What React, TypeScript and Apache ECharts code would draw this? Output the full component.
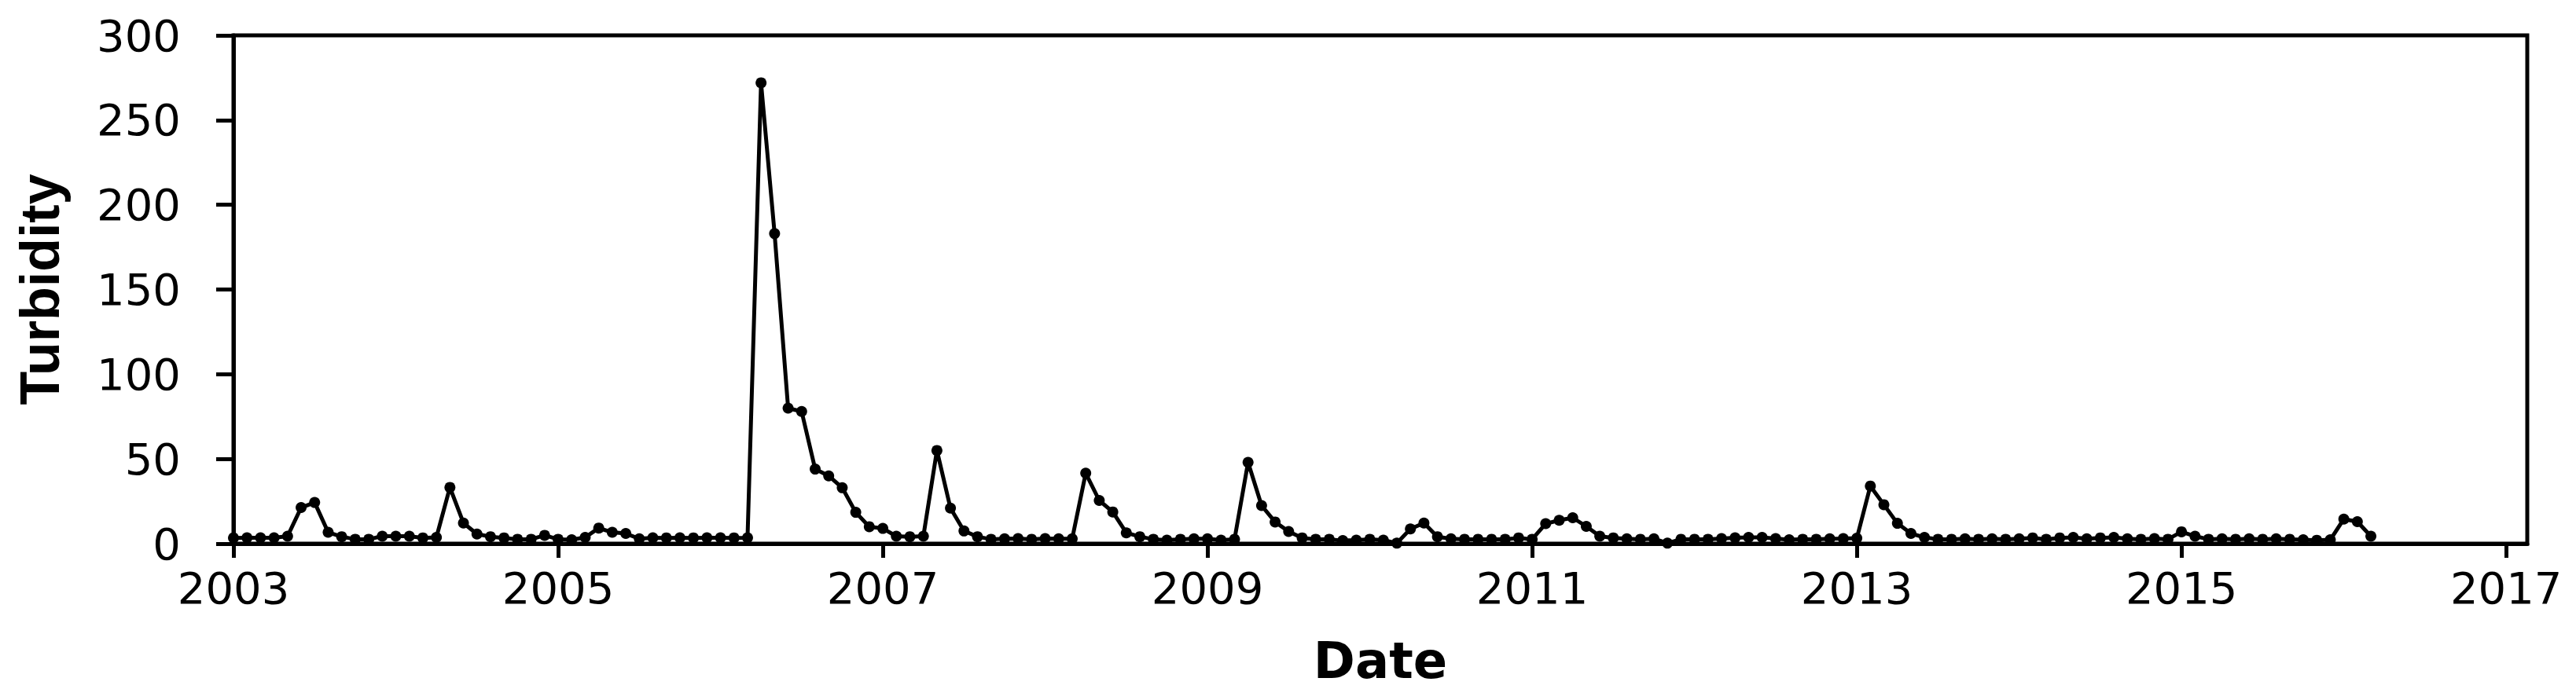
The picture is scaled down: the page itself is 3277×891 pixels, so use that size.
import React, { useEffect, useRef } from "react";
import * as echarts from "echarts";

// Monthly turbidity readings (Jan..Dec)
const t2003 = [3.4, 3.5, 3.5, 3.5, 4.4, 21.3, 24.3, 6.7, 4.1, 2.6, 2.6, 4.4];
const t2004 = [4.4, 4.4, 3.4, 3.7, 33.2, 12.2, 5.7, 4.1, 3.4, 2.6, 2.6, 4.9];
const t2005 = [2.6, 2.3, 3.7, 9.2, 6.7, 6.0, 2.9, 3.5, 3.4, 3.5, 3.4, 3.5];
const t2006 = [3.5, 3.4, 3.5, 272, 183, 80, 78, 44, 40, 33, 18.5, 10];
const t2007 = [9, 4.4, 4.1, 4.4, 55, 21, 7.5, 4.1, 2.6, 2.9, 3.0, 2.6];
const t2008 = [3.0, 2.9, 2.9, 41.6, 25.5, 18.7, 6.4, 4.1, 2.6, 2.1, 2.6, 2.9];
const t2009 = [2.9, 2.1, 2.6, 48, 22.5, 12.8, 7.2, 3.4, 2.6, 2.6, 1.8, 2.1];
const t2010 = [2.6, 2.1, 0.3, 8.7, 12.2, 4.1, 2.9, 2.6, 2.6, 2.6, 2.6, 3.4];
const t2011 = [2.6, 11.8, 13.8, 15.3, 10.2, 4.4, 3.4, 2.9, 2.6, 2.9, 0.3, 2.6];
const t2012 = [2.6, 2.6, 3.0, 3.5, 3.7, 3.7, 3.0, 2.3, 2.6, 2.6, 2.9, 3.0];
const t2013 = [3.2, 34, 23, 12, 6, 3.7, 2.6, 2.6, 2.9, 2.6, 2.9, 2.6];
const t2014 = [2.9, 3.4, 2.6, 3.4, 3.7, 2.9, 3.4, 3.7, 2.9, 2.6, 3.0, 2.6];
const t2015 = [7, 4.4, 2.6, 2.9, 2.6, 2.9, 2.6, 2.9, 2.6, 2.3, 2.0, 2.3];
const t2016 = [14.5, 13, 4.4];

const yearStarts = [2003, 2004, 2005, 2006, 2007, 2008, 2009, 2010, 2011, 2012, 2013, 2014, 2015, 2016];
const yearValues = [t2003, t2004, t2005, t2006, t2007, t2008, t2009, t2010, t2011, t2012, t2013, t2014, t2015, t2016];

const xTicks = [2003, 2005, 2007, 2009, 2011, 2013, 2015, 2017];
const yTicks = [0, 50, 100, 150, 200, 250, 300];

const xMin = 2003;
const xMax = 2017.13;

export default function App() {
  const ref = useRef<HTMLDivElement>(null);

  useEffect(() => {
    if (!ref.current) return;
    const chart = echarts.init(ref.current, undefined, { renderer: "svg" });

    const data: [number, number][] = [];
    yearStarts.forEach((yr, i) => {
      yearValues[i].forEach((v, m) => {
        data.push([yr + m / 12, v]);
      });
    });

    chart.setOption({
      animation: false,
      backgroundColor: "#ffffff",
      grid: {
        left: 297,
        right: 62,
        top: 45,
        bottom: 199,
        containLabel: false,
        outerBoundsMode: "none",
        show: true,
        borderColor: "#000",
        borderWidth: 5,
        backgroundColor: "transparent",
      },
      xAxis: {
        type: "value",
        min: xMin,
        max: xMax,
        name: "Date",
        nameLocation: "middle",
        nameGap: 117,
        nameTextStyle: {
          fontFamily: "DejaVu Sans",
          fontWeight: "bold",
          fontSize: 64,
          color: "#000",
        },
        splitLine: { show: false },
        axisLine: { show: true, onZero: false, lineStyle: { color: "#000", width: 5 } },
        axisTick: {
          show: true,
          inside: false,
          length: 18,
          lineStyle: { color: "#000", width: 5 },
          customValues: xTicks,
        },
        axisLabel: {
          customValues: xTicks,
          margin: 28,
          fontFamily: "DejaVu Sans",
          fontSize: 56,
          color: "#000",
          formatter: (v: number) => String(Math.round(v)),
        },
      },
      yAxis: {
        type: "value",
        min: 0,
        max: 300,
        interval: 50,
        name: "Turbidity",
        nameLocation: "middle",
        nameRotate: 90,
        nameGap: 211,
        nameTextStyle: {
          fontFamily: "Liberation Sans",
          fontWeight: "bold",
          fontSize: 70,
          color: "#000",
        },
        splitLine: { show: false },
        axisLine: { show: true, lineStyle: { color: "#000", width: 5 } },
        axisTick: {
          show: true,
          inside: false,
          length: 22,
          lineStyle: { color: "#000", width: 5 },
        },
        axisLabel: {
          margin: 67,
          fontFamily: "DejaVu Sans",
          fontSize: 56,
          color: "#000",
          formatter: (v: number) => (yTicks.includes(v) ? String(v) : ""),
        },
      },
      series: [
        {
          type: "line",
          data,
          symbol: "circle",
          symbolSize: 14,
          showSymbol: true,
          lineStyle: { color: "#000", width: 5 },
          itemStyle: { color: "#000" },
        },
      ],
    });

    return () => chart.dispose();
  }, []);

  return (
    <div
      ref={ref}
      style={{ position: "fixed", left: 0, top: 0, width: 3277, height: 891, background: "#fff" }}
    />
  );
}
